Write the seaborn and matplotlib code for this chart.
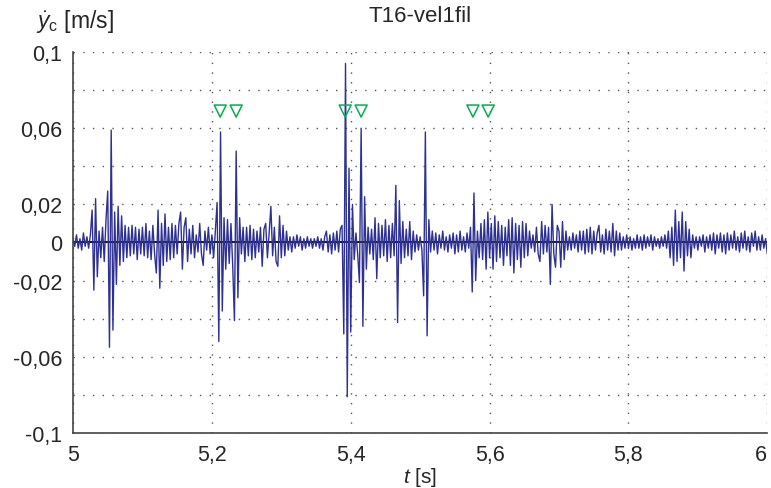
import numpy as np
import matplotlib
matplotlib.use('Agg')
import matplotlib.pyplot as plt
import matplotlib.ticker as mticker
import seaborn as sns

# sampled velocity signal, dt = 2.5 ms from t = 5 s to t = 6 s
dt = 0.0025
t_start = 5.0
vel_seg = [
    [0.002, -0.002, 0.004, -0.003, 0.002, -0.004, 0.005, -0.002, 0.003, -0.003,
     0.004, 0.017, -0.025, 0.023, -0.018, 0.006, -0.008, 0.008, -0.010, 0.012],
    [0.027, -0.055, 0.059, -0.046, 0.016, -0.022, 0.019, -0.012, 0.014, -0.010,
     0.009, -0.008, 0.008, -0.007, 0.009, -0.006, 0.008, -0.009, 0.007, -0.006],
    [0.008, -0.007, 0.010, -0.008, 0.006, -0.009, 0.009, -0.006, -0.016, 0.017,
     -0.024, 0.010, -0.012, 0.015, -0.010, 0.008, -0.009, 0.010, -0.008, 0.009],
    [-0.006, 0.010, 0.016, -0.014, 0.008, 0.013, -0.010, 0.007, -0.006, 0.009,
     -0.008, 0.004, -0.005, 0.010, -0.006, -0.012, 0.006, -0.004, 0.008, -0.006],
    [0.004, -0.008, 0.006, 0.021, -0.052, 0.058, -0.036, 0.013, -0.014, 0.012,
     -0.011, 0.010, -0.012, -0.041, 0.048, -0.029, 0.013, -0.006, 0.008, -0.010],
    [0.008, -0.007, 0.009, -0.009, 0.007, -0.008, 0.006, -0.005, 0.008, -0.0125,
     0.007, 0.010, -0.008, 0.005, 0.019, -0.007, 0.008, -0.010, -0.0125, 0.014],
    [-0.008, 0.009, -0.007, 0.006, -0.004, 0.003, -0.005, 0.003, -0.003, 0.004,
     -0.002, 0.003, -0.004, 0.002, -0.003, 0.003, -0.002, 0.002, -0.003, 0.002],
    [-0.002, 0.003, -0.003, 0.002, -0.004, 0.003, 0.006, -0.005, 0.004, -0.006,
     0.005, -0.004, 0.006, -0.005, 0.007, 0.009, -0.048, 0.094, -0.081, 0.039],
    [-0.047, 0.020, -0.009, 0.005, -0.006, -0.021, 0.060, -0.044, 0.024, -0.014,
     0.008, -0.006, 0.007, -0.009, 0.013, -0.019, 0.010, -0.008, 0.009, -0.007],
    [0.012, -0.010, 0.009, -0.008, 0.010, -0.007, 0.030, -0.042, 0.022, -0.011,
     0.011, -0.008, 0.007, -0.007, 0.011, -0.009, 0.006, -0.005, 0.004, -0.004],
    [0.003, -0.004, -0.028, 0.058, -0.049, 0.012, -0.005, 0.006, -0.004, 0.005,
     -0.006, 0.004, -0.003, 0.006, -0.004, 0.003, -0.005, 0.004, -0.003, 0.005],
    [-0.006, 0.004, -0.005, 0.006, -0.004, 0.003, -0.005, 0.005, -0.003, 0.008,
     -0.026, 0.026, -0.020, 0.006, -0.008, 0.010, -0.009, 0.012, -0.014, 0.016],
    [-0.008, 0.010, -0.014, 0.014, -0.010, 0.011, -0.008, 0.009, -0.012, 0.008,
     -0.007, 0.012, -0.012, 0.013, -0.016, 0.010, -0.009, 0.009, -0.013, 0.011],
    [-0.008, 0.010, -0.007, 0.006, -0.003, 0.004, -0.005, 0.008, -0.006, -0.010,
     0.011, -0.006, 0.009, -0.005, 0.008, -0.022, 0.020, -0.006, -0.013, 0.009],
    [0.006, -0.013, 0.011, -0.009, 0.006, -0.004, 0.003, -0.004, 0.005, -0.003,
     0.004, -0.005, 0.006, -0.004, 0.006, -0.006, 0.007, -0.005, 0.008, -0.006],
    [0.006, -0.004, 0.005, 0.009, -0.005, 0.004, -0.006, 0.007, -0.004, 0.006,
     -0.005, 0.010, -0.007, 0.006, -0.004, 0.005, -0.004, 0.003, -0.003, 0.004],
    [-0.003, 0.003, -0.004, 0.002, -0.003, 0.004, -0.003, 0.003, -0.004, 0.004,
     -0.003, 0.003, -0.002, 0.004, -0.004, 0.003, -0.002, 0.002, -0.003, 0.003],
    [-0.002, 0.004, -0.003, 0.006, -0.008, 0.008, -0.012, 0.017, -0.010, 0.011,
     -0.008, 0.016, -0.015, 0.011, -0.007, 0.007, -0.008, 0.004, -0.003, 0.003],
    [-0.004, 0.003, -0.002, 0.004, -0.005, 0.003, -0.003, 0.004, -0.004, 0.005,
     -0.006, 0.004, -0.003, 0.005, -0.005, 0.004, -0.006, 0.005, -0.004, 0.004],
    [-0.003, 0.006, -0.004, 0.003, -0.005, 0.005, -0.003, 0.006, -0.004, 0.003,
     -0.005, 0.005, -0.002, 0.006, -0.004, 0.003, -0.004, 0.004, -0.003, 0.002,
     -0.006],
]
vel = np.concatenate([np.array(s) for s in vel_seg])
t = t_start + dt * np.arange(len(vel))

# event markers (green triangles)
event_t = [5.212, 5.235, 5.392, 5.415, 5.576, 5.598]
event_y = [0.069] * len(event_t)

y_labels = {0.1: '0,1', 0.06: '0,06', 0.02: '0,02', 0.0: '0',
            -0.02: '-0,02', -0.06: '-0,06', -0.1: '-0,1'}

sns.set_style('white')
plt.rcParams['font.family'] = ['Liberation Sans', 'DejaVu Sans']
plt.rcParams['mathtext.fontset'] = 'custom'
plt.rcParams['mathtext.rm'] = 'Liberation Sans'
plt.rcParams['mathtext.it'] = 'Liberation Sans:italic'

fig = plt.figure(figsize=(7.71, 4.89), dpi=100)
ax = fig.add_axes([0.0947, 0.1125, 0.9005, 0.7791])

ax.axhline(0, color='black', lw=1.3, zorder=1)
sns.lineplot(x=t, y=vel, ax=ax, color='#2e3192', lw=1.0, estimator=None,
             sort=False, zorder=2)
sns.scatterplot(x=event_t, y=event_y, ax=ax, marker='v', s=75,
                facecolor='none', edgecolor='#00b050', linewidth=1.1, zorder=3)

ax.set_xlim(5, 6)
ax.set_ylim(-0.1, 0.1)
ax.xaxis.set_major_locator(mticker.MultipleLocator(0.2))
ax.xaxis.set_minor_locator(mticker.MultipleLocator(0.01))
ax.yaxis.set_major_locator(mticker.MultipleLocator(0.02))
ax.yaxis.set_minor_locator(mticker.MultipleLocator(0.005))
ax.xaxis.set_major_formatter(mticker.FuncFormatter(
    lambda v, p: ('%g' % round(v, 3)).replace('.', ',')))
ax.yaxis.set_major_formatter(mticker.FuncFormatter(
    lambda v, p: y_labels.get(round(v, 3), '')))

ax.tick_params(axis='both', which='major', direction='in', length=5,
               width=1, labelsize=15.5, color='#444444', pad=8)
ax.tick_params(axis='both', which='minor', direction='in', length=2.5,
               width=0.8, color='#444444')
ax.grid(True, which='major', linestyle=(0, (1, 6)), color='#555555', lw=1.0)

for side in ['top', 'right']:
    ax.spines[side].set_visible(False)
for side in ['left', 'bottom']:
    ax.spines[side].set_color('#444444')
    ax.spines[side].set_linewidth(1.2)

# keep the last x label ("6") inside the figure
fig.canvas.draw()
ax.xaxis.get_major_ticks()[-1].label1.set_horizontalalignment('right')
for tk in ax.xaxis.get_major_ticks():
    if abs(tk.get_loc() - 6) < 1e-6:
        tk.label1.set_horizontalalignment('right')

ax.set_xlabel('')
ax.set_ylabel('')
ax.text(0.5, -0.115, r'$t$ [s]', transform=ax.transAxes, ha='center',
        va='center', fontsize=15)
ax.text(0.003, 1.083, r'$\dot{y}_\mathrm{c}$ [m/s]', transform=ax.transAxes,
        ha='center', va='center', fontsize=16.5)
ax.text(0.5, 1.095, 'T16-vel1fil', transform=ax.transAxes, ha='center',
        va='center', fontsize=16)

fig.savefig('out.png', dpi=100)
